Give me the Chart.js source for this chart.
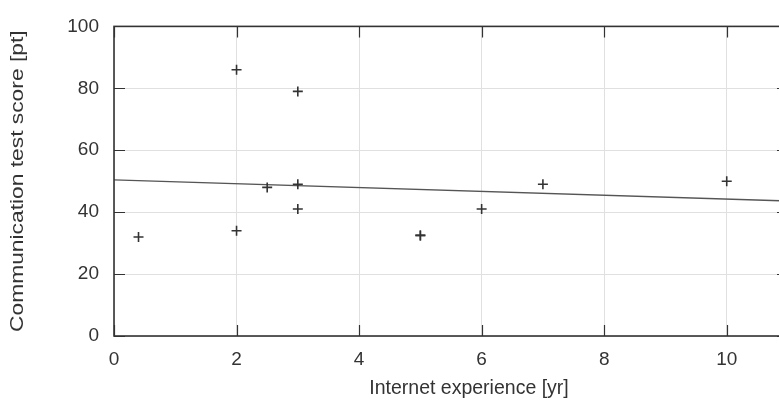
<!DOCTYPE html>
<html>
<head>
<meta charset="utf-8">
<script src="https://cdn.jsdelivr.net/npm/chart.js@4/dist/chart.umd.min.js"></script>
<style>
  html, body { margin: 0; padding: 0; background: #fff; overflow: hidden; }
  #wrap { width: 800px; height: 408px; }
</style>
</head>
<body>
<div id="wrap"><canvas id="c" width="800" height="408"></canvas></div>
<script>
// Survey responses: years of internet use vs. communication test score
const experienceYears = [0.4, 2, 2, 2.5, 3, 3, 3, 5, 5, 6, 7, 10];
const testScores      = [32, 86, 34, 48, 79, 49, 41, 32.5, 32.5, 41, 49, 50];

// Least-squares trend line, evaluated at the ends of the x range
const fitYears  = [0, 11];
const fitScores = [50.4, 43.6];

// Axis ticks
const xTicks = [0, 2, 4, 6, 8, 10];
const yTicks = [0, 20, 40, 60, 80, 100];

const xTitle = 'Internet experience [yr]';
const yTitle = 'Communication test score [pt]';

const FONT = '"Liberation Sans", Arial, Helvetica, sans-serif';
const INK = '#333333';

// Frame around the plot with inward-pointing ticks on all four sides,
// plus both axis captions.
const frameAndTicks = {
  id: 'frameAndTicks',
  afterDraw(chart) {
    const { ctx, chartArea: a, scales: { x, y } } = chart;
    const len = 11;
    ctx.save();
    ctx.strokeStyle = INK;
    ctx.lineWidth = 1.2;
    ctx.beginPath();
    xTicks.forEach(v => {
      const px = Math.round(x.getPixelForValue(v)) + 0.5;
      ctx.moveTo(px, a.bottom); ctx.lineTo(px, a.bottom - len);
      ctx.moveTo(px, a.top);    ctx.lineTo(px, a.top + len);
    });
    yTicks.forEach(v => {
      const py = Math.round(y.getPixelForValue(v)) + 0.5;
      ctx.moveTo(a.left, py);  ctx.lineTo(a.left + len, py);
      ctx.moveTo(a.right, py); ctx.lineTo(a.right - len, py);
    });
    ctx.stroke();
    ctx.lineWidth = 1.6;
    ctx.strokeRect(a.left, a.top, a.right - a.left, a.bottom - a.top);

    ctx.fillStyle = INK;
    ctx.textAlign = 'center';
    ctx.textBaseline = 'middle';

    // x caption, below the tick labels
    ctx.font = '19.5px ' + FONT;
    ctx.fillText(xTitle, (a.left + a.right) / 2 + 18, a.bottom + 53);

    // y caption, rotated and set a little wide along its run
    ctx.save();
    ctx.translate(18, (a.top + a.bottom) / 2);
    ctx.rotate(-Math.PI / 2);
    ctx.scale(1.2, 1);
    ctx.font = '19px ' + FONT;
    ctx.fillText(yTitle, 0, 0);
    ctx.restore();

    ctx.restore();
  }
};

new Chart(document.getElementById('c'), {
  type: 'scatter',
  data: {
    datasets: [
      {
        label: 'Respondents',
        data: experienceYears.map((v, i) => ({ x: v, y: testScores[i] })),
        pointStyle: 'cross',
        pointRadius: 5,
        pointBorderWidth: 1.6,
        borderColor: INK,
        backgroundColor: INK
      },
      {
        label: 'Linear fit',
        data: fitYears.map((v, i) => ({ x: v, y: fitScores[i] })),
        showLine: true,
        pointRadius: 0,
        borderColor: '#555555',
        borderWidth: 1.3,
        fill: false
      }
    ]
  },
  options: {
    responsive: false,
    animation: false,
    events: [],
    layout: { padding: { left: 0, top: 18, right: 12, bottom: 0 } },
    plugins: {
      legend: { display: false },
      tooltip: { enabled: false }
    },
    scales: {
      x: {
        type: 'linear',
        min: 0,
        max: 11,
        afterBuildTicks: s => { s.ticks = xTicks.map(v => ({ value: v })); },
        afterFit: s => { s.height = 72; },
        grid: { color: '#e0e0e0', lineWidth: 1, drawTicks: false },
        border: { display: false },
        ticks: {
          color: INK,
          padding: 12,
          font: { family: FONT, size: 19 },
          maxRotation: 0
        }
      },
      y: {
        type: 'linear',
        min: 0,
        max: 100,
        afterBuildTicks: s => { s.ticks = yTicks.map(v => ({ value: v })); },
        afterFit: s => { s.width = 114; },
        grid: { color: '#e0e0e0', lineWidth: 1, drawTicks: false },
        border: { display: false },
        ticks: {
          color: INK,
          padding: 15,
          font: { family: FONT, size: 19 }
        }
      }
    }
  },
  plugins: [frameAndTicks]
});
</script>
</body>
</html>
